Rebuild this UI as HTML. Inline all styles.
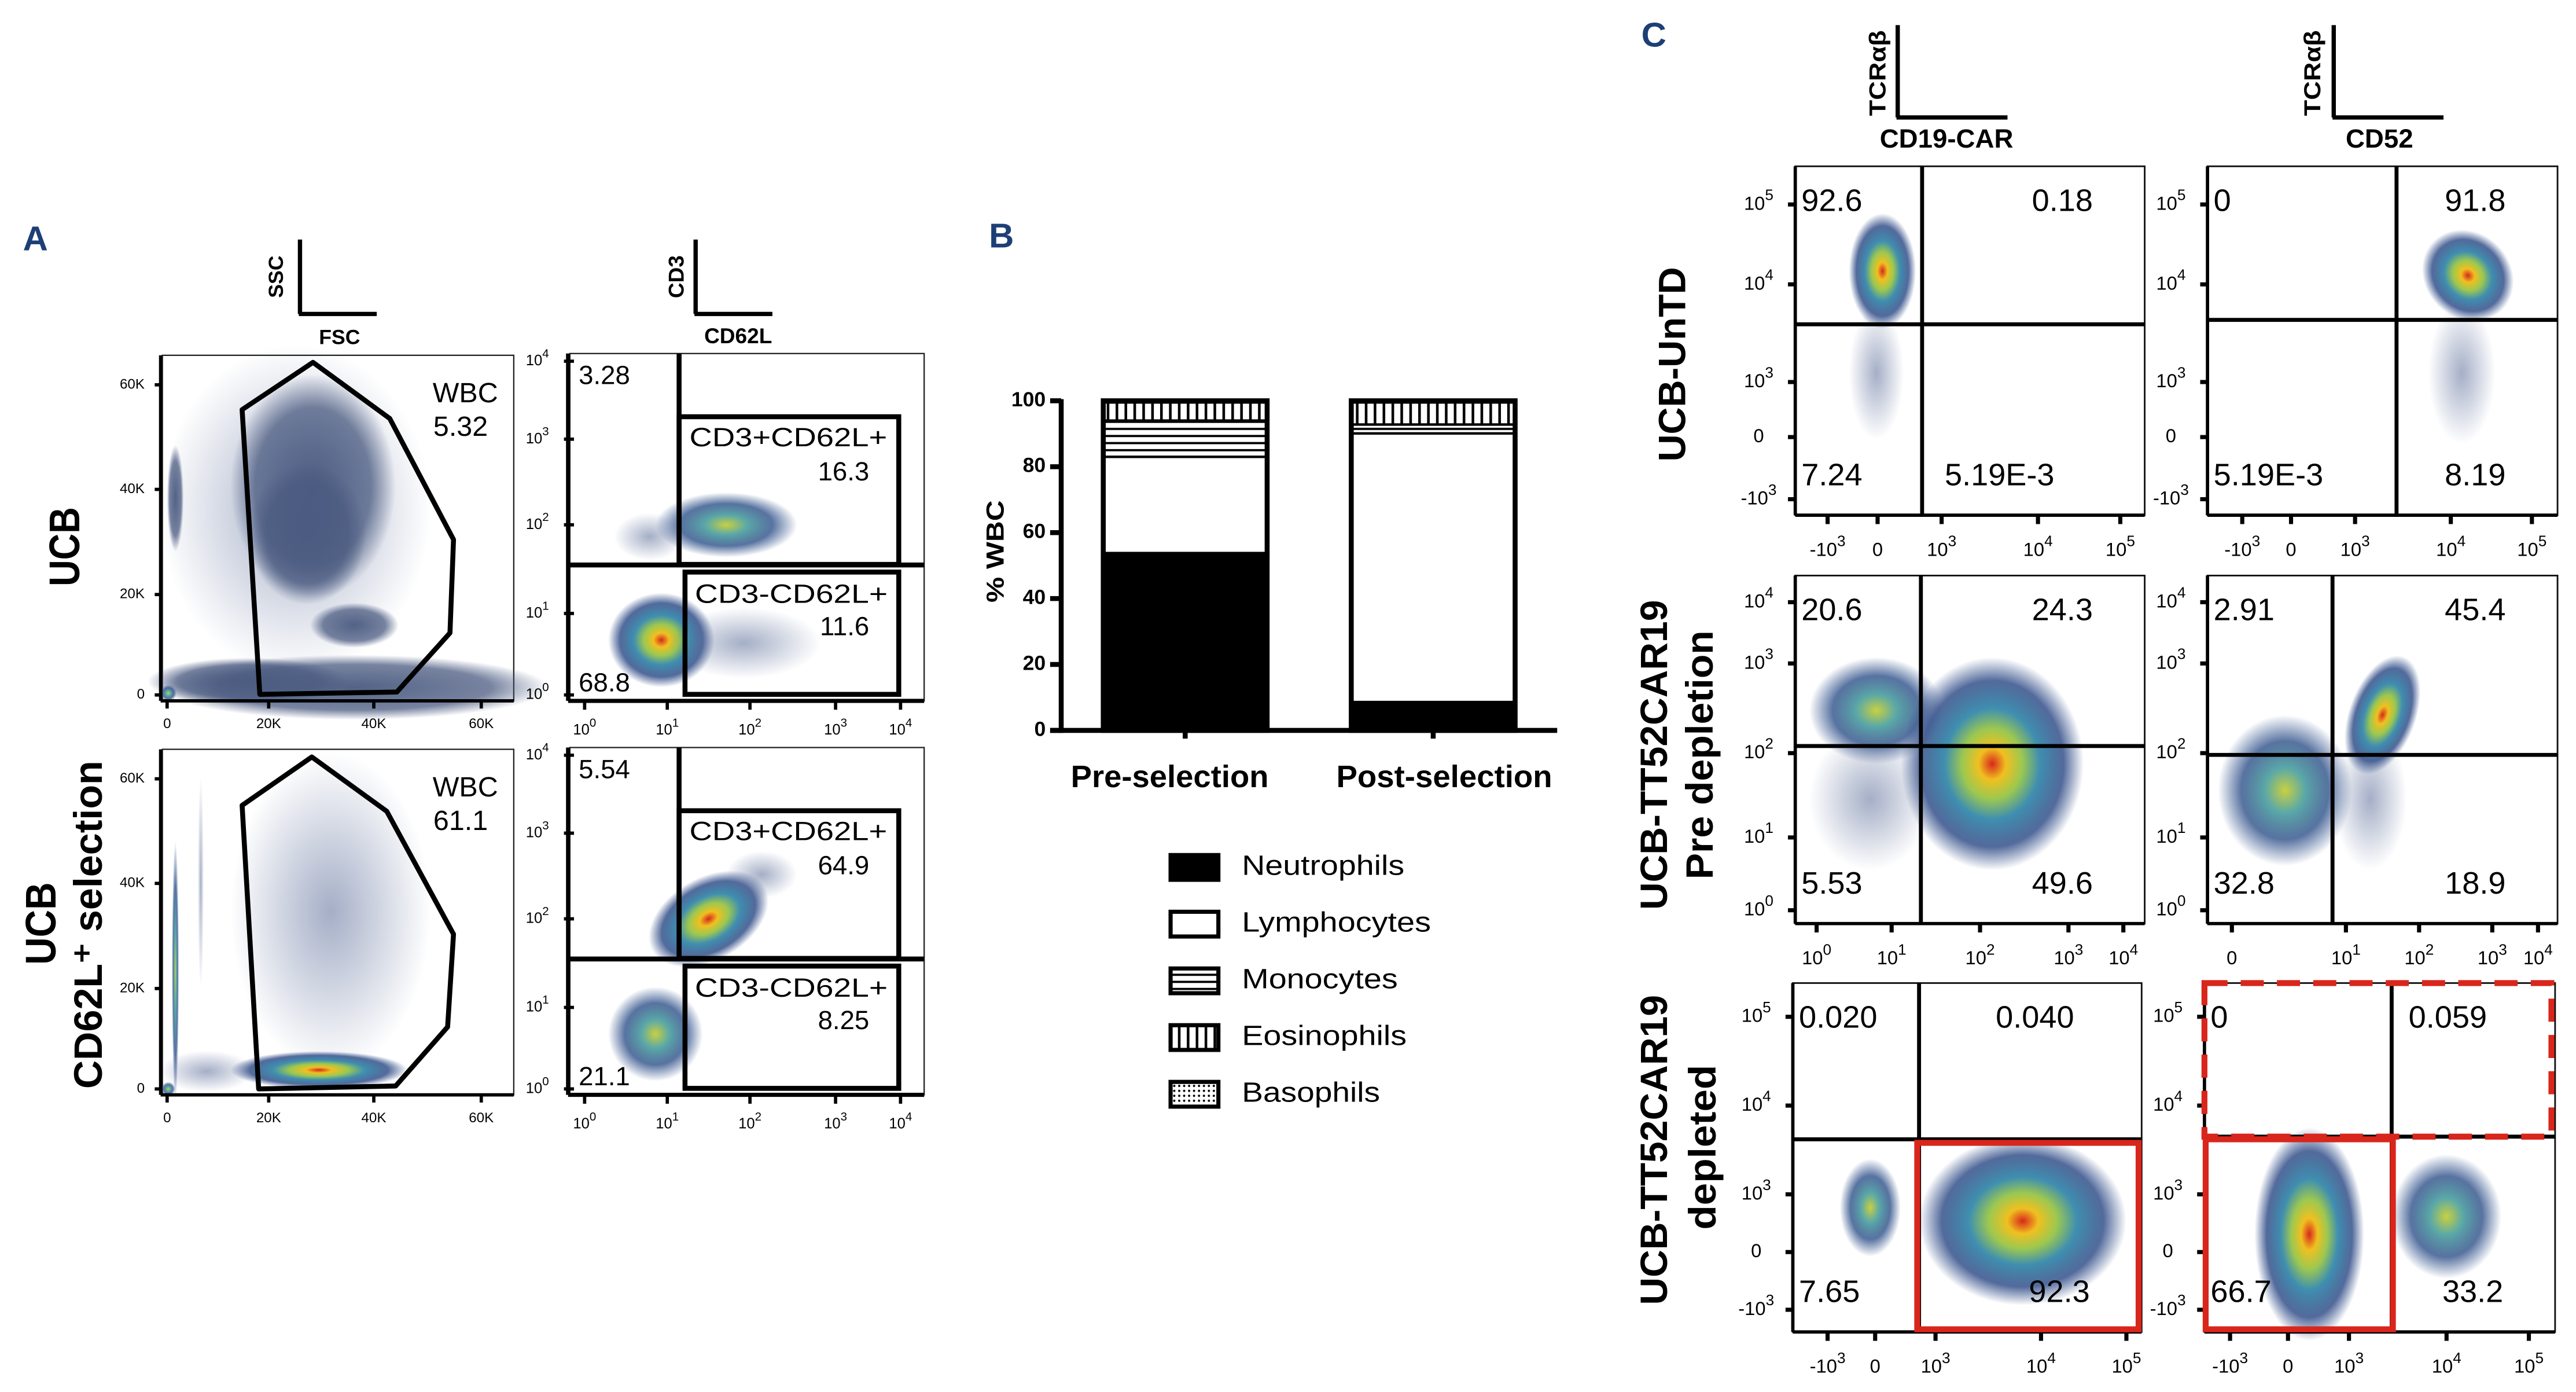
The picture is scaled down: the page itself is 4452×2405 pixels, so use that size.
<!DOCTYPE html>
<html><head><meta charset="utf-8"><style>
html,body{margin:0;padding:0;background:#fff;}
svg{display:block;font-family:"Liberation Sans",Arial,sans-serif;}
</style></head><body>
<svg id="fig" xmlns="http://www.w3.org/2000/svg" width="4452" height="2405" viewBox="0 0 1563 844">
<defs>
<radialGradient id="gHot"><stop offset="0" stop-color="#d8281c"/><stop offset="0.15" stop-color="#f0c020"/><stop offset="0.33" stop-color="#9cc850"/><stop offset="0.52" stop-color="#3f8fb0"/><stop offset="0.78" stop-color="#34508a" stop-opacity="0.85"/><stop offset="1" stop-color="#34508a" stop-opacity="0"/></radialGradient>
<radialGradient id="gWarm"><stop offset="0" stop-color="#c8d040"/><stop offset="0.3" stop-color="#5aa8a8"/><stop offset="0.65" stop-color="#3a5a90" stop-opacity="0.85"/><stop offset="1" stop-color="#3a5a90" stop-opacity="0"/></radialGradient>
<radialGradient id="gCool"><stop offset="0" stop-color="#4a5a80" stop-opacity="0.95"/><stop offset="0.7" stop-color="#4a5a80" stop-opacity="0.75"/><stop offset="1" stop-color="#4a5a80" stop-opacity="0"/></radialGradient>
<radialGradient id="gSparse"><stop offset="0" stop-color="#5a6c98" stop-opacity="0.55"/><stop offset="1" stop-color="#5a6c98" stop-opacity="0"/></radialGradient>
<pattern id="pMono" patternUnits="userSpaceOnUse" width="8" height="4.3"><rect width="8" height="4.3" fill="#fff"/><line x1="0" y1="2" x2="8" y2="2" stroke="#000" stroke-width="1.3"/></pattern>
<pattern id="pEos" patternUnits="userSpaceOnUse" width="5.4" height="8"><rect width="5.4" height="8" fill="#fff"/><line x1="2.7" y1="0" x2="2.7" y2="8" stroke="#000" stroke-width="1.6"/></pattern>
<pattern id="pBaso" patternUnits="userSpaceOnUse" width="3" height="3"><rect width="3" height="3" fill="#fff"/><circle cx="1.5" cy="1.5" r="0.7" fill="#000"/></pattern>
</defs>
<g id="layer"></g>
</svg>
<script>
// ---- Panel B data ----
const categories = ['Pre-selection', 'Post-selection'];
const neutrophils = [53.8, 8.6];
const lymphocytes = [29.2, 81.5];
const monocytes = [11.0, 2.7];
const eosinophils = [5.5, 6.7];
const basophils = [0.5, 0.5];
const yTicks = [0, 20, 40, 60, 80, 100];
const legendLabels = ['Neutrophils', 'Lymphocytes', 'Monocytes', 'Eosinophils', 'Basophils'];

const NS = 'http://www.w3.org/2000/svg';
const L = document.getElementById('layer');
const Z1 = (x, y) => [x * 0.3583, y * 0.3583 + 122.9];
const Z2 = (x, y) => [x * 0.2687 + 579.4, y * 0.3583 + 122.9];
const Z3 = (x, y) => [x * 0.370 + 983.1, y * 0.5385];
const SX3 = 0.370, SY3 = 0.5385;

function mk(tag, attrs, name, parent) {
  const e = document.createElementNS(NS, tag);
  for (const k in attrs) e.setAttribute(k, attrs[k]);
  
  
  (parent || L).appendChild(e);
  return e;
}
function line(p, q, w, name, color, dash) {
  const a = {x1: p[0], y1: p[1], x2: q[0], y2: q[1], stroke: color || '#000', 'stroke-width': w};
  if (dash) a['stroke-dasharray'] = dash;
  return mk('line', a, name);
}
function text(p, s, size, name, opt) {
  opt = opt || {};
  const a = {x: p[0], y: p[1], 'font-size': size, 'text-anchor': opt.anchor || 'start', 'font-weight': opt.weight || 'normal', fill: opt.fill || '#000', 'dominant-baseline': 'middle'};
  if (opt.len) { a.textLength = opt.len; a.lengthAdjust = 'spacingAndGlyphs'; }
  if (opt.rot) a.transform = 'rotate(' + opt.rot + ' ' + p[0] + ' ' + p[1] + ')';
  const e = mk('text', a, name);
  e.textContent = s;
  return e;
}
function pow(p, base, exp, size, name) {
  const e = mk('text', {x: p[0], y: p[1], 'font-size': size, 'text-anchor': 'middle', 'dominant-baseline': 'middle'}, name);
  const t1 = document.createElementNS(NS, 'tspan'); t1.textContent = base; e.appendChild(t1);
  if (exp !== '') {
    const t2 = document.createElementNS(NS, 'tspan');
    t2.setAttribute('dy', -size * 0.45); t2.setAttribute('font-size', size * 0.8); t2.textContent = exp; e.appendChild(t2);
  }
  return e;
}
function blob(c, rx, ry, grad, name, rot) {
  const a = {cx: c[0], cy: c[1], rx: rx, ry: ry, fill: 'url(#' + grad + ')'};
  if (rot) a.transform = 'rotate(' + rot + ' ' + c[0] + ' ' + c[1] + ')';
  return mk('ellipse', a, name);
}
function box(p, q, w, name, color, dash) {
  const a = {x: p[0], y: p[1], width: q[0] - p[0], height: q[1] - p[1], fill: 'none', stroke: color || '#000', 'stroke-width': w};
  if (dash) a['stroke-dasharray'] = dash;
  return mk('rect', a, name);
}
const NAVY = '#1d3f75';

text(Z1(60, 65), 'A', 21, 'panel-a-label', {anchor: 'middle', weight: 'bold', fill: NAVY});
text(Z2(105, 60), 'B', 21, 'panel-b-label', {anchor: 'middle', weight: 'bold', fill: NAVY});
text(Z3(55, 42), 'C', 21, 'panel-c-label', {anchor: 'middle', weight: 'bold', fill: NAVY});

// ---------- Panel A ----------
line(Z1(508, 62), Z1(508, 188), 2.6, 'ssc-key-axis');
line(Z1(506, 188), Z1(638, 188), 2.6, 'fsc-key-axis');
text(Z1(470, 125), 'SSC', 12.5, 'ssc-label', {anchor: 'middle', weight: 'bold', rot: -90});
text(Z1(575, 230), 'FSC', 12.5, 'fsc-label', {anchor: 'middle', weight: 'bold'});
line(Z1(1178, 62), Z1(1178, 188), 2.6, 'cd3-key-axis');
line(Z1(1176, 188), Z1(1308, 188), 2.6, 'cd62l-key-axis');
text(Z1(1148, 125), 'CD3', 13, 'cd3-label', {anchor: 'middle', weight: 'bold', rot: -90});
text(Z1(1250, 228), 'CD62L', 13, 'cd62l-label', {anchor: 'middle', weight: 'bold'});
text(Z1(115, 582), 'UCB', 26, 'row-label-ucb', {anchor: 'middle', weight: 'bold', rot: -90, len: 48});
text(Z1(75, 1220), 'UCB', 26, 'row-label-ucb-selected', {anchor: 'middle', weight: 'bold', rot: -90, len: 50});
text(Z1(155, 1222), 'CD62L\u207A selection', 24, 'row-label-cd62l-selection', {anchor: 'middle', weight: 'bold', rot: -90, len: 199});

function fscPlot(dy, blobs, gate, wbc, tag) {
  const o = (x, y) => Z1(x, y + dy);
  mk('rect', {x: o(275, 258)[0], y: o(275, 258)[1], width: o(870, 0)[0] - o(275, 0)[0], height: o(0, 843)[1] - o(0, 258)[1], fill: '#fff', stroke: '#222', 'stroke-width': 0.8}, 'fsc-ssc-plot-frame-' + tag);
  blobs.forEach((b, i) => blob(o(b[0], b[1]), b[2] * 0.3583, b[3] * 0.3583, b[4], 'cell-population-' + tag + '-' + i, b[5]));
  const pts = gate.map(g => o(g[0], g[1]).join(',')).join(' ');
  mk('polygon', {points: pts, fill: 'none', stroke: '#000', 'stroke-width': 3, 'stroke-linejoin': 'round'}, 'wbc-gate-' + tag);
  line(o(272, 258), o(272, 843), 2, 'y-axis-' + tag);
  line(o(272, 843), o(870, 843), 2, 'x-axis-' + tag);
  const yt = [['0', 833], ['20K', 663], ['40K', 485], ['60K', 308]];
  yt.forEach(t => { text(o(245, t[1]), t[0], 8.5, 'y-tick-' + tag + '-' + t[0], {anchor: 'end'}); line(o(262, t[1]), o(275, t[1]), 2, 'y-tick-mark'); });
  const xt = [['0', 283], ['20K', 455], ['40K', 633], ['60K', 815]];
  xt.forEach(t => { text(o(t[1], 883), t[0], 8.5, 'x-tick-' + tag + '-' + t[0], {anchor: 'middle'}); line(o(t[1], 843), o(t[1], 856), 2, 'x-tick-mark'); });
  text(o(788, 325), 'WBC', 17, 'wbc-label-' + tag, {anchor: 'middle'});
  text(o(780, 382), wbc, 17, 'wbc-value-' + tag, {anchor: 'middle'});
}
fscPlot(0, [
  [600, 820, 330, 55, 'gCool'], [420, 810, 170, 40, 'gCool'],
  [500, 520, 230, 280, 'gSparse'], [530, 480, 140, 190, 'gCool'], [520, 560, 100, 120, 'gCool'],
  [297, 500, 14, 90, 'gCool'], [600, 715, 75, 38, 'gCool'], [285, 830, 14, 14, 'gWarm']
], [[410, 350], [530, 270], [660, 365], [768, 570], [762, 728], [672, 828], [440, 832]], '5.32', 'ucb');
fscPlot(667, [
  [560, 1200, 170, 270, 'gSparse'], [540, 1468, 150, 32, 'gHot'], [350, 1470, 80, 35, 'gSparse'],
  [297, 1300, 6, 220, 'gWarm'], [340, 1150, 5, 180, 'gSparse'], [285, 1500, 12, 12, 'gWarm']
].map(b => [b[0], b[1] - 667, b[2], b[3], b[4]]), [[410, 353], [528, 271], [655, 363], [768, 571], [758, 728], [670, 828], [438, 833]], '61.1', 'ucb-selected');

function cdPlot(dy, blobs, labels, tag) {
  const o = (x, y) => Z1(x, y + dy);
  mk('rect', {x: o(965, 0)[0], y: o(0, 255)[1], width: o(1565, 0)[0] - o(965, 0)[0], height: o(0, 843)[1] - o(0, 255)[1], fill: '#fff', stroke: '#222', 'stroke-width': 0.8}, 'cd3-cd62l-plot-frame-' + tag);
  blobs.forEach((b, i) => blob(o(b[0], b[1]), b[2] * 0.3583, b[3] * 0.3583, b[4], 'cd-population-' + tag + '-' + i, b[5]));
  line(o(1150, 255), o(1150, 613), 3, 'quadrant-vline-' + tag);
  line(o(965, 613), o(1565, 613), 3, 'quadrant-hline-' + tag);
  box(o(1150, 362), o(1522, 612), 3, 'gate-cd3pos-cd62lpos-' + tag);
  box(o(1160, 625), o(1522, 832), 3, 'gate-cd3neg-cd62lpos-' + tag);
  line(o(962, 255), o(962, 843), 2.5, 'y-axis-' + tag);
  line(o(962, 843), o(1565, 843), 2.5, 'x-axis-' + tag);
  [['0', 833], ['1', 695], ['2', 545], ['3', 400], ['4', 268]].forEach(t => { pow(o(910, t[1]), '10', t[0], 9, 'y-tick-' + tag + '-' + t[0]); line(o(955, t[1]), o(972, t[1]), 2, 'y-tick-mark'); });
  [['0', 990], ['1', 1130], ['2', 1270], ['3', 1415], ['4', 1525]].forEach(t => { pow(o(t[1], 893), '10', t[0], 9, 'x-tick-' + tag + '-' + t[0]); line(o(t[1], 843), o(t[1], 858), 2, 'x-tick-mark'); });
  text(o(980, 295), labels[0], 16, 'pct-cd3pos-cd62lneg-' + tag);
  text(o(1335, 400), 'CD3+CD62L+', 16, 'gate-label-cd3pos-' + tag, {anchor: 'middle', len: 120});
  text(o(1472, 458), labels[1], 16, 'pct-cd3pos-cd62lpos-' + tag, {anchor: 'end'});
  text(o(1340, 665), 'CD3-CD62L+', 16, 'gate-label-cd3neg-' + tag, {anchor: 'middle', len: 117});
  text(o(1472, 720), labels[2], 16, 'pct-cd3neg-cd62lpos-' + tag, {anchor: 'end'});
  text(o(980, 815), labels[3], 16, 'pct-cd3neg-cd62lneg-' + tag);
}
cdPlot(0, [[1230, 545, 120, 55, 'gWarm'], [1100, 565, 60, 40, 'gSparse'], [1120, 740, 90, 80, 'gHot'], [1260, 745, 130, 60, 'gSparse']], ['3.28', '16.3', '11.6', '68.8'], 'ucb');
cdPlot(667, [[1200, 545, 110, 70, 'gHot', -30], [1110, 740, 80, 80, 'gWarm'], [1290, 470, 60, 40, 'gSparse']], ['5.54', '64.9', '8.25', '21.1'], 'ucb-selected');

// ---------- Panel B chart ----------
const B0 = Z2(0, 893)[1], B100 = Z2(0, 335)[1];
const yScale = v => B0 - (B0 - B100) * v / 100;
const barW = 0.2687 * 370;
const xCenter = i => Z2(520 + i * 560, 0)[0];
const axX = Z2(240, 0)[0];
line([axX, B100 - 1], [axX, B0 + 1.5], 3, 'b-y-axis');
line([Z2(215, 0)[0], B0], [Z2(1360, 0)[0], B0], 3, 'b-x-axis');
yTicks.forEach(v => {
  line([Z2(215, 0)[0], yScale(v)], [axX, yScale(v)], 3, 'b-y-tick-mark');
  text([Z2(205, 0)[0], yScale(v)], String(v), 12.5, 'b-y-tick-' + v, {anchor: 'end', weight: 'bold'});
});
text(Z2(95, 590), '% WBC', 15, 'b-y-axis-title', {anchor: 'middle', weight: 'bold', rot: -90, len: 62});
const series = [[neutrophils, '#000'], [lymphocytes, '#fff'], [monocytes, 'url(#pMono)'], [eosinophils, 'url(#pEos)'], [basophils, 'url(#pBaso)']];
categories.forEach((c, i) => {
  let acc = 0;
  const x0 = xCenter(i) - barW / 2;
  series.forEach((s, k) => {
    const v = s[0][i];
    mk('rect', {x: x0, y: yScale(acc + v), width: barW, height: yScale(acc) - yScale(acc + v), fill: s[1], stroke: '#000', 'stroke-width': 1.5}, 'bar-' + legendLabels[k].toLowerCase() + '-' + (i ? 'post' : 'pre'));
    acc += v;
  });
  mk('rect', {x: x0, y: yScale(acc), width: barW, height: B0 - yScale(acc), fill: 'none', stroke: '#000', 'stroke-width': 3}, 'bar-outline-' + i);
  line([xCenter(i), B0], [xCenter(i), B0 + 5], 3, 'b-x-tick-mark');
  text([Z2(485 + i * 620, 0)[0], Z2(0, 975)[1]], c, 19, 'b-x-label-' + i, {anchor: 'middle', weight: 'bold', len: i ? 131 : 120});
});
const legLens = [98.6, 114.7, 94.6, 100, 83.8];
legendLabels.forEach((lb, k) => {
  const y = Z2(0, 1125 + k * 96)[1];
  const x = Z2(487, 0)[0];
  mk('rect', {x: x, y: y - 7.5, width: 29, height: 15, fill: series[k][1], stroke: '#000', 'stroke-width': 2.5}, 'legend-swatch-' + lb.toLowerCase());
  text([Z2(648, 0)[0], y], lb, 17, 'legend-entry-' + lb.toLowerCase(), {len: legLens[k]});
});

// ---------- Panel C ----------
line(Z3(455, 28), Z3(455, 132), 2.6, 'tcr-key-axis-1');
line(Z3(453, 132), Z3(635, 132), 2.6, 'car-key-axis-1');
text(Z3(425, 82), 'TCR\u03B1\u03B2', 14, 'tcr-label-1', {anchor: 'middle', weight: 'bold', rot: -90, len: 52});
text(Z3(535, 158), 'CD19-CAR', 16, 'cd19car-label', {anchor: 'middle', weight: 'bold', len: 81});
line(Z3(1170, 28), Z3(1170, 132), 2.6, 'tcr-key-axis-2');
line(Z3(1168, 132), Z3(1350, 132), 2.6, 'cd52-key-axis');
text(Z3(1138, 82), 'TCR\u03B1\u03B2', 14, 'tcr-label-2', {anchor: 'middle', weight: 'bold', rot: -90, len: 52});
text(Z3(1245, 158), 'CD52', 16, 'cd52-label', {anchor: 'middle', weight: 'bold', len: 41});

text(Z3(90, 410), 'UCB-UnTD', 23, 'row-label-untd', {anchor: 'middle', weight: 'bold', rot: -90, len: 118});
text(Z3(60, 850), 'UCB-TT52CAR19', 23, 'row-label-pre-1', {anchor: 'middle', weight: 'bold', rot: -90, len: 188});
text(Z3(135, 850), 'Pre depletion', 23, 'row-label-pre-2', {anchor: 'middle', weight: 'bold', rot: -90, len: 151});
text(Z3(60, 1295), 'UCB-TT52CAR19', 23, 'row-label-dep-1', {anchor: 'middle', weight: 'bold', rot: -90, len: 188});
text(Z3(140, 1292), 'depleted', 23, 'row-label-dep-2', {anchor: 'middle', weight: 'bold', rot: -90, len: 100});

const bi = [['-10', '3'], ['0', ''], ['10', '3'], ['10', '4'], ['10', '5']];
const lg = [['10', '0'], ['10', '1'], ['10', '2'], ['10', '3'], ['10', '4']];
function cPlot(xl, xr, yt, yb, vx, hy, blobs, labels, yticks, xticks, tag) {
  mk('rect', {x: Z3(xl, 0)[0], y: Z3(0, yt)[1], width: Z3(xr, 0)[0] - Z3(xl, 0)[0], height: Z3(0, yb)[1] - Z3(0, yt)[1], fill: '#fff', stroke: '#111', 'stroke-width': 1}, 'flow-plot-frame-' + tag);
  blobs.forEach((b, i) => blob(Z3(b[0], b[1]), b[2] * SX3, b[3] * SY3, b[4], 'flow-population-' + tag + '-' + i, b[5]));
  line(Z3(vx, yt), Z3(vx, yb), 2.4, 'quadrant-vline-' + tag);
  line(Z3(xl, hy), Z3(xr, hy), 2.4, 'quadrant-hline-' + tag);
  line(Z3(xl, yt), Z3(xl, yb), 2, 'c-y-axis-' + tag);
  line(Z3(xl, yb), Z3(xr, yb), 2, 'c-x-axis-' + tag);
  yticks.forEach((t, i) => { pow([Z3(xl - 60, 0)[0], Z3(0, t[2])[1]], t[0], t[1], 11.5, 'c-y-tick-' + tag + '-' + i); line(Z3(xl - 12, t[2]), Z3(xl, t[2]), 2.5, 'c-y-tick-mark'); });
  xticks.forEach((t, i) => { pow(Z3(t[2], yb + 40), t[0], t[1], 11.5, 'c-x-tick-' + tag + '-' + i); line(Z3(t[2], yb), Z3(t[2], yb + 10), 2.5, 'c-x-tick-mark'); });
  const ty1 = yt + 41, ty2 = yb - 43;
  text(Z3(xl + 10, ty1), labels[0], 19, 'pct-q1-' + tag);
  text(labels[1][1] === 'm' ? Z3(labels[1][2], ty1) : Z3(xr - 85, ty1), labels[1][0], 19, 'pct-q2-' + tag, {anchor: labels[1][1] === 'm' ? 'middle' : 'end'});
  text(Z3(xl + 10, ty2), labels[2], 19, 'pct-q3-' + tag);
  text(labels[3][1] === 'm' ? Z3(labels[3][2], ty2) : Z3(xr - 85, ty2), labels[3][0], 19, 'pct-q4-' + tag, {anchor: labels[3][1] === 'm' ? 'middle' : 'end'});
}
const ytA = (a, b, c, d, e) => [['10', '5', a], ['10', '4', b], ['10', '3', c], ['0', '', d], ['-10', '3', e]];
const ytB = (a, b, c, d, e) => [['10', '4', a], ['10', '3', b], ['10', '2', c], ['10', '1', d], ['10', '0', e]];
const xt = (arr, src) => src.map((s, i) => [s[0], s[1], arr[i]]);
cPlot(287, 860, 187, 580, 495, 365,
  [[420, 420, 45, 75, 'gSparse'], [430, 305, 55, 65, 'gHot']],
  ['92.6', ['0.18', 'e'], '7.24', ['5.19E-3', 'm', 622]], ytA(230, 320, 430, 492, 562), xt([340, 422, 527, 685, 820], bi), 'untd-car');
cPlot(963, 1537, 187, 580, 1273, 360,
  [[1380, 420, 55, 80, 'gSparse'], [1390, 310, 70, 55, 'gHot', -45]],
  ['0', ['91.8', 'e'], '5.19E-3', ['8.19', 'e']], ytA(230, 320, 430, 492, 562), xt([1020, 1100, 1205, 1362, 1495], bi), 'untd-cd52');
cPlot(287, 860, 648, 1040, 493, 840,
  [[420, 800, 110, 60, 'gWarm'], [410, 900, 100, 80, 'gSparse'], [610, 860, 150, 120, 'gHot']],
  ['20.6', ['24.3', 'e'], '5.53', ['49.6', 'e']], ytB(678, 747, 848, 943, 1025), xt([322, 445, 590, 735, 825], lg), 'pre-car');
cPlot(963, 1537, 648, 1040, 1168, 850,
  [[1090, 890, 110, 85, 'gWarm'], [1230, 900, 60, 80, 'gSparse'], [1250, 805, 55, 70, 'gHot', 20]],
  ['2.91', ['45.4', 'e'], '32.8', ['18.9', 'e']], ytB(678, 747, 848, 943, 1025), xt([1003, 1190, 1310, 1430, 1505], [['0', ''], ['10', '1'], ['10', '2'], ['10', '3'], ['10', '4']]), 'pre-cd52');
cPlot(283, 855, 1107, 1500, 490, 1283,
  [[410, 1360, 50, 55, 'gWarm'], [660, 1375, 170, 95, 'gHot']],
  ['0.020', ['0.040', 'm', 680], '7.65', ['92.3', 'e']], ytA(1145, 1245, 1345, 1410, 1475), xt([340, 418, 517, 690, 830], bi), 'dep-car');
cPlot(958, 1533, 1107, 1500, 1265, 1280,
  [[1130, 1390, 90, 120, 'gHot'], [1355, 1370, 90, 70, 'gWarm']],
  ['0', ['0.059', 'm', 1357], '66.7', ['33.2', 'e']], ytA(1145, 1245, 1345, 1410, 1475), xt([1000, 1095, 1195, 1355, 1490], bi), 'dep-cd52');
box(Z3(487, 1287), Z3(850, 1497), 3.6, 'highlight-car-positive-gate', '#d9261c');
box(Z3(960, 1283), Z3(1267, 1497), 3.6, 'highlight-tcr-negative-gate', '#d9261c');
box(Z3(958, 1107), Z3(1527, 1280), 3.6, 'highlight-tcr-positive-dashed-gate', '#d9261c', '14,8');
</script>
</body></html>
